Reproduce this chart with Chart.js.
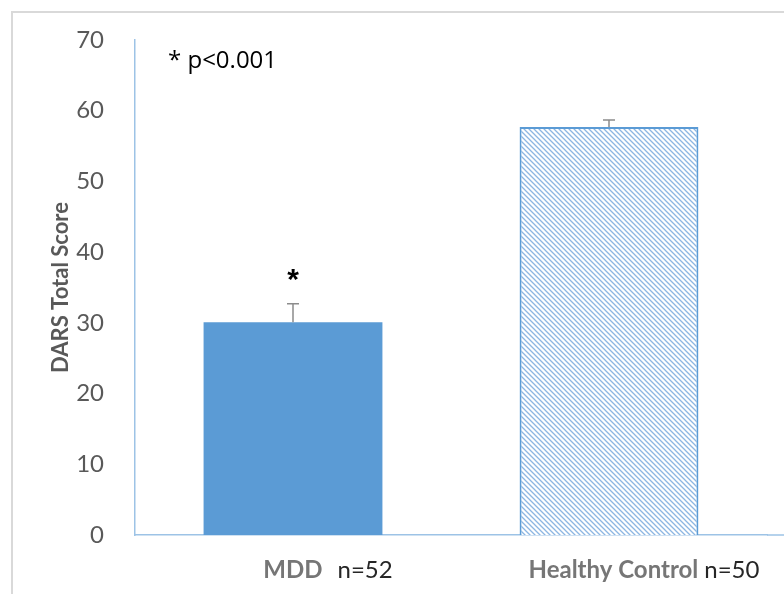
<!DOCTYPE html>
<html>
<head>
<meta charset="utf-8">
<script src="https://cdn.jsdelivr.net/npm/chart.js@4.4.0/dist/chart.umd.min.js"></script>
<style>
  body { margin: 0; background: #fff; }
  #wrap { width: 784px; height: 594px; }
</style>
</head>
<body>
<div id="wrap"><canvas id="myChart" width="784" height="594"></canvas></div>
<script>
var groupNames = ['MDD', 'Healthy Control']
var groupSizes = ['n=52', 'n=50']
var scores = [30.1, 57.7]
var errors = [2.6, 1.0]
var yTicks = [0, 10, 20, 30, 40, 50, 60, 70]
var sigMark = ['*', '']
var note = '* p<0.001'

// diagonal hatch for the control bar
function makeHatch() {
    var c = document.createElement('canvas')
    c.width = 5
    c.height = 5
    var g = c.getContext('2d')
    g.fillStyle = '#ffffff'
    g.fillRect(0, 0, 5, 5)
    g.strokeStyle = '#8db6e2'
    g.lineWidth = 1.3
    g.beginPath()
    g.moveTo(-1, -1)
    g.lineTo(6, 6)
    g.moveTo(-1, 4)
    g.lineTo(1, 6)
    g.moveTo(4, -1)
    g.lineTo(6, 1)
    g.stroke()
    return g.createPattern(c, 'repeat')
}

var ctx = document.getElementById('myChart').getContext('2d')
var hatch = makeHatch()

var extras = {
    id: 'extras',
    beforeDraw: function (chart) {
        var c = chart.ctx
        c.save()
        c.strokeStyle = '#d9d9d9'
        c.lineWidth = 2
        c.beginPath()
        c.moveTo(12, 594)
        c.lineTo(12, 12)
        c.lineTo(784, 12)
        c.stroke()
        c.restore()
    },
    afterDatasetsDraw: function (chart) {
        var c = chart.ctx
        var meta = chart.getDatasetMeta(0)
        var y = chart.scales.y
        var x = chart.scales.x
        var area = chart.chartArea
        c.save()
        // x axis line runs to the edge
        c.strokeStyle = '#9dc3e6'
        c.lineWidth = 1.5
        c.beginPath()
        c.moveTo(area.right, y.getPixelForValue(0))
        c.lineTo(784, y.getPixelForValue(0))
        c.stroke()
        // error bars
        c.strokeStyle = '#8c8c8c'
        c.lineWidth = 1.5
        meta.data.forEach(function (bar, i) {
            var top = y.getPixelForValue(scores[i] + errors[i])
            var base = y.getPixelForValue(scores[i])
            c.beginPath()
            c.moveTo(bar.x, base)
            c.lineTo(bar.x, top)
            c.moveTo(bar.x - 6, top)
            c.lineTo(bar.x + 6, top)
            c.stroke()
            if (sigMark[i]) {
                c.fillStyle = '#000000'
                c.font = 'bold 30px "Liberation Sans"'
                c.textAlign = 'center'
                c.textBaseline = 'middle'
                c.fillText(sigMark[i], bar.x, y.getPixelForValue(scores[i] + errors[i] + 3.2))
            }
        })
        // category labels: bold grey name + regular sample size
        c.textBaseline = 'middle'
        c.textAlign = 'left'
        groupNames.forEach(function (name, i) {
            var cx = x.getPixelForTick(i) + 35
            c.font = 'bold 24px Lato'
            var gap = i === 0 ? 15 : 6
            var w1 = c.measureText(name).width
            c.font = '24px Lato'
            var w2 = c.measureText(groupSizes[i]).width
            var left = cx - (w1 + gap + w2) / 2
            c.font = 'bold 24px Lato'
            c.fillStyle = '#767676'
            c.fillText(name, left, 570)
            c.font = '24px Lato'
            c.fillStyle = '#262626'
            c.fillText(groupSizes[i], left + w1 + gap, 570)
        })
        c.fillStyle = '#000000'
        c.font = '24px "Open Sans"'
        c.fillText(note, 168, 61)
        c.restore()
    }
}

var myChart = new Chart(ctx, {
    type: 'bar',
    data: {
        labels: groupNames.map(function (n, i) { return n + ' ' + groupSizes[i] }),
        datasets: [{
            data: scores,
            backgroundColor: ['#5b9bd5', hatch],
            borderColor: ['#5b9bd5', '#5b9bd5'],
            borderWidth: [0, 2],
            borderSkipped: 'bottom',
            categoryPercentage: 1,
            barPercentage: 0.566
        }]
    },
    options: {
        responsive: false,
        animation: false,
        layout: { padding: { left: 14, top: 40, right: 17, bottom: 0 } },
        plugins: { legend: { display: false }, tooltip: { enabled: false } },
        scales: {
            x: {
                grid: { display: false },
                border: { color: '#9dc3e6', width: 1.5 },
                ticks: { display: false },
                afterFit: function (s) { s.height = 59 }
            },
            y: {
                min: 0,
                max: 70,
                grid: { display: false },
                border: { color: '#9dc3e6', width: 1.5 },
                afterBuildTicks: function (s) { s.ticks = yTicks.map(function (v) { return { value: v } }) },
                ticks: { color: '#595959', font: { family: 'Lato', size: 24 }, padding: 23 },
                title: {
                    display: true,
                    text: 'DARS Total Score',
                    color: '#595959',
                    font: { family: 'Lato', size: 22, weight: 'bold' },
                    padding: { top: 34, bottom: 0 }
                },
                afterFit: function (s) { s.width = 121 }
            }
        }
    },
    plugins: [extras]
})
</script>
</body>
</html>
